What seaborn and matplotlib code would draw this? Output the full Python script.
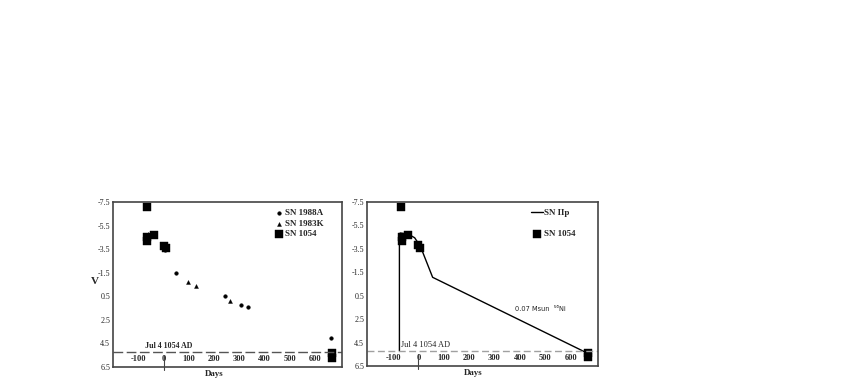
import numpy as np
import pandas as pd
import matplotlib
matplotlib.use('Agg')
import matplotlib.pyplot as plt
import seaborn as sns

# V magnitude vs days since Jul 4 1054 AD
sn1988a_days = [48, 5, 243, 305, 333, 663]
sn1988a_v = [-1.45, -3.4, 0.47, 1.2, 1.45, 4.08]
sn1983k_days = [-65, 97, 127, 263]
sn1983k_v = [-4.76, -0.69, -0.35, 0.89]
sn1054_days = [-69, -66, -66, -40, 0, 6, 667, 667]
sn1054_v = [-7.1, -4.5, -4.2, -4.7, -3.8, -3.6, 5.35, 5.7]
sn2p_days = [-75, -75, -72, -40, -15, 8, 56, 663]
sn2p_v = [5.2, -4.5, -4.85, -4.75, -4.45, -3.7, -1.07, 5.37]

y_ticks = [-7.5, -5.5, -3.5, -1.5, 0.5, 2.5, 4.5, 6.5]
x_ticks = [-100, 0, 100, 200, 300, 400, 500, 600]
jul4_level = 5.2

sns.set_style('white')
plt.rcParams['font.family'] = ['Liberation Serif', 'DejaVu Sans']
plt.rcParams['axes.unicode_minus'] = False

fig = plt.figure(figsize=(8.53, 3.88), dpi=100)
ax1 = fig.add_axes([0.1325, 0.0541, 0.2685, 0.4253])
ax2 = fig.add_axes([0.4302, 0.0567, 0.2708, 0.4227])


def style_axes(ax, bold_x=True):
    ax.set_xlim(-203, 708)
    ax.set_ylim(6.5, -7.5)
    ax.set_yticks(y_ticks)
    ax.set_yticklabels([f'{v:.1f}' for v in y_ticks])
    ax.set_xticks(x_ticks)
    ax.set_xticklabels([str(v) for v in x_ticks],
                       fontweight='bold' if bold_x else 'normal')
    ax.tick_params(axis='x', length=0, pad=-8.5, labelsize=6)
    ax.tick_params(axis='y', length=0, pad=2, labelsize=5.8)
    for s in ax.spines.values():
        s.set_color('#444444')
        s.set_linewidth(1.2)
    ax.grid(False)
    ax.axvline(0, ymin=-0.02, ymax=0.075, color='#444444', lw=0.8, clip_on=False)
    ax.set_xlabel('Days', fontsize=6.4, fontweight='bold')
    ax.xaxis.set_label_coords(0.44, -0.02)
    ax.set_ylabel('')


# ---- left panel ----
sns.scatterplot(x=sn1988a_days, y=sn1988a_v, marker='o', s=7, color='black',
                edgecolor='black', linewidth=0.3, label='SN 1988A', ax=ax1)
sns.scatterplot(x=sn1983k_days, y=sn1983k_v, marker='^', s=8, color='black',
                edgecolor='black', linewidth=0.3, label='SN 1983K', ax=ax1)
sns.scatterplot(x=sn1054_days, y=sn1054_v, marker='s', s=30, color='black',
                edgecolor='black', linewidth=0.3, label='SN 1054', ax=ax1)
ax1.axhline(jul4_level, color='#555555', ls=(0, (7, 2.5)), lw=1)
ax1.text(-75, jul4_level - 0.15, 'Jul 4 1054 AD', fontsize=5.8, fontweight='bold',
         ha='left', va='bottom')
style_axes(ax1)
ax1.set_ylabel('V', fontsize=8, fontweight='bold', rotation=0)
ax1.yaxis.set_label_coords(-0.079, 0.49)
leg1 = ax1.legend(loc='upper left', bbox_to_anchor=(0.69, 0.985), frameon=False,
                  prop={'weight': 'bold', 'size': 6.5}, handlelength=0.8,
                  handletextpad=0.3, labelspacing=0.25, borderpad=0)

# ---- right panel ----
sns.lineplot(x=sn2p_days, y=sn2p_v, sort=False, estimator=None, color='black',
             lw=1, label='SN IIp', ax=ax2)
sns.scatterplot(x=sn1054_days, y=sn1054_v, marker='s', s=30, color='black',
                edgecolor='black', linewidth=0.3, label='SN 1054', ax=ax2)
ax2.axhline(jul4_level, color='#a0a0a0', ls=(0, (5, 2.5)), lw=1)
ax2.text(-68, jul4_level - 0.15, 'Jul 4 1054 AD', fontsize=6,
         ha='left', va='bottom')
ax2.text(380, 1.65, '0.07 Msun  \u2075\u2076Ni', fontsize=4.8,
         family='DejaVu Sans', ha='left', va='center')
style_axes(ax2)
ax2.xaxis.set_label_coords(0.46, -0.02)
leg2 = ax2.legend(loc='upper left', bbox_to_anchor=(0.69, 0.985), frameon=False,
                  prop={'weight': 'bold', 'size': 6.5}, handlelength=1.4,
                  handletextpad=0.1, labelspacing=1.4, borderpad=0)

fig.savefig('out.png', dpi=100, facecolor='white')
